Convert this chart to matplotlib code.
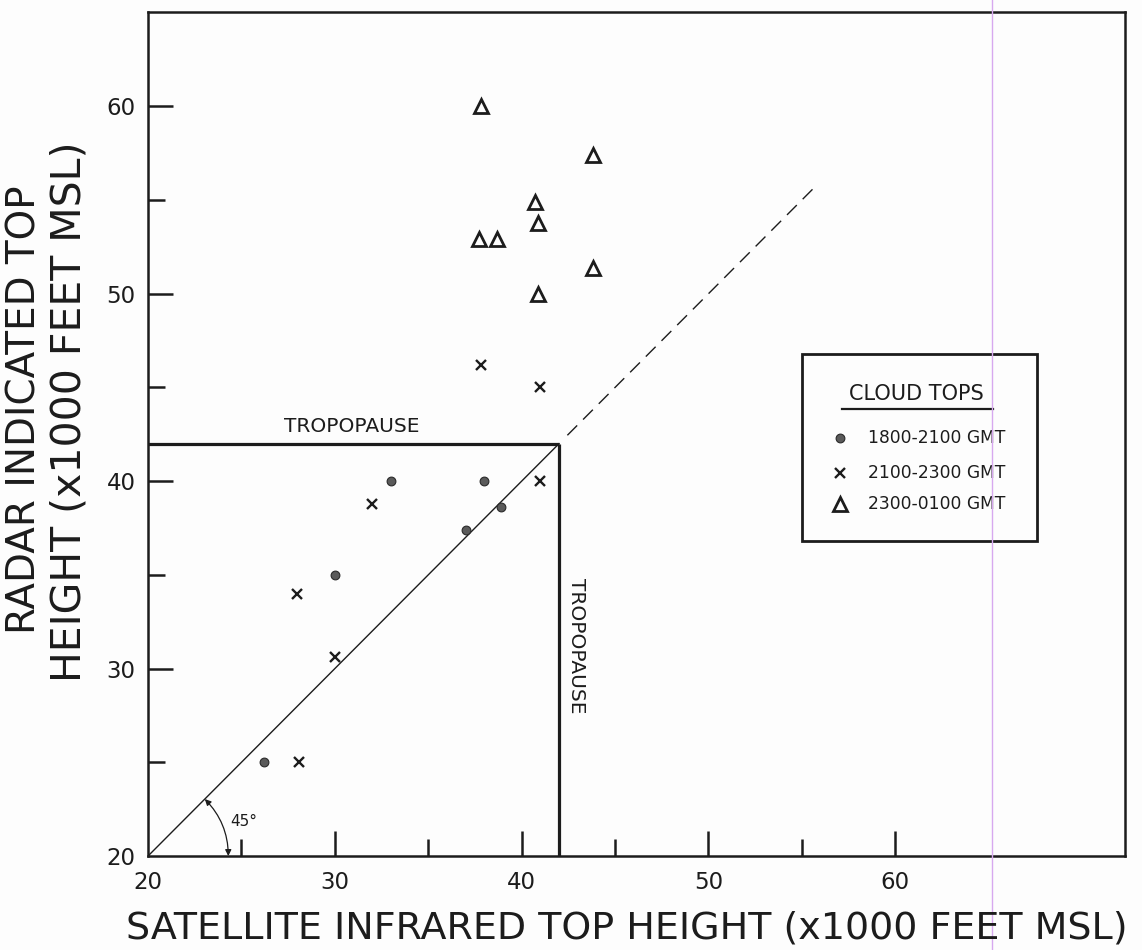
import matplotlib
matplotlib.use("Agg")
import matplotlib.pyplot as plt
from matplotlib.lines import Line2D
from matplotlib.patches import Rectangle

plt.rcParams['font.family'] = ['DejaVu Sans']

INK = '#1c1c1c'

# Cloud-top heights (x1000 ft MSL): satellite IR estimate vs radar-indicated
sat_1800_2100 = [26.2, 30.0, 33.0, 37.0, 38.0, 38.9]
rad_1800_2100 = [25.0, 35.0, 40.0, 37.4, 40.0, 38.6]

sat_2100_2300 = [28.1, 28.0, 30.0, 32.0, 41.0, 37.8, 41.0]
rad_2100_2300 = [25.0, 34.0, 30.6, 38.8, 40.0, 46.2, 45.0]

sat_2300_0100 = [37.8, 43.8, 40.7, 40.9, 37.7, 38.7, 43.8, 40.9]
rad_2300_0100 = [60.0, 57.4, 54.9, 53.8, 52.9, 52.9, 51.4, 50.0]

tropopause = 42.0
diag_end = 55.6

major_ticks = [20, 30, 40, 50, 60]
minor_ticks = [25, 35, 45, 55]

legend_title = "CLOUD TOPS"
legend_labels = ["1800-2100 GMT", "2100-2300 GMT", "2300-0100 GMT"]

fig = plt.figure(figsize=(11.42, 9.5), dpi=100)
fig.patch.set_facecolor('#fdfdfd')
ax = fig.add_axes([0.1296, 0.0989, 0.8555, 0.8888])
ax.set_facecolor('#fdfdfd')
ax.set_xlim(20, 72.3)
ax.set_ylim(20, 65.05)

for sp in ax.spines.values():
    sp.set_linewidth(1.8)
    sp.set_color(INK)

ax.set_xticks(major_ticks)
ax.set_yticks(major_ticks)
ax.set_xticks(minor_ticks, minor=True)
ax.set_yticks(minor_ticks, minor=True)
ax.tick_params(which='major', direction='in', length=18, width=1.8,
               labelsize=16.5, colors=INK)
ax.tick_params(which='minor', direction='in', length=12, width=1.8, colors=INK)
ax.tick_params(axis='x', which='major', pad=11)
ax.tick_params(axis='y', which='major', pad=9)
# the origin carries a label only, no tick mark
ax.xaxis.get_major_ticks()[0].tick1line.set_visible(False)
ax.yaxis.get_major_ticks()[0].tick1line.set_visible(False)

# 45-degree reference line: solid below the tropopause, dashed above
ax.plot([20, tropopause], [20, tropopause], color=INK, lw=1.0)
ax.plot([tropopause + 0.45, diag_end], [tropopause + 0.45, diag_end],
        color=INK, lw=1.0, linestyle=(0, (10, 6)))

# Tropopause boundaries
ax.plot([20, tropopause], [tropopause, tropopause], color=INK, lw=2.3,
        solid_capstyle='butt')
ax.plot([tropopause, tropopause], [20, tropopause], color=INK, lw=2.3,
        solid_capstyle='butt')
ax.text(30.9, tropopause + 0.9, "TROPOPAUSE", fontsize=14.5, color=INK,
        ha='center', va='center')
ax.text(tropopause + 0.95, 31.2, "TROPOPAUSE", fontsize=14.5, color=INK,
        ha='center', va='center', rotation=-90)

# 45 degree angle marker
r = 4.3
ax.annotate("", xy=(20 + r * 0.7071, 20 + r * 0.7071), xytext=(20 + r, 20),
            arrowprops=dict(arrowstyle='<|-|>', color=INK, lw=0.9,
                            mutation_scale=9,
                            connectionstyle='arc3,rad=0.2',
                            shrinkA=0, shrinkB=0))
ax.text(25.1, 21.85, "45°", fontsize=11, color=INK, ha='center', va='center')

# Observations
dot_kw = dict(marker='o', linestyle='none', markersize=6.3,
              markerfacecolor='#5a5a5a', markeredgecolor='#2a2a2a',
              markeredgewidth=0.8)
x_kw = dict(marker='x', linestyle='none', markersize=7.5,
            color=INK, markeredgewidth=1.7)
tri_kw = dict(marker='^', linestyle='none', markersize=10.5,
              markerfacecolor='none', markeredgecolor=INK, markeredgewidth=2.0)

ax.plot(sat_1800_2100, rad_1800_2100, **dot_kw)
ax.plot(sat_2100_2300, rad_2100_2300, **x_kw)
ax.plot(sat_2300_0100, rad_2300_0100, **tri_kw)

# Legend panel
box = Rectangle((0.669, 0.373), 0.241, 0.222, transform=ax.transAxes,
                fill=False, edgecolor=INK, lw=2.0)
ax.add_patch(box)
ax.text(0.786, 0.547, legend_title, transform=ax.transAxes, fontsize=15,
        color=INK, ha='center', va='center')
ax.plot([0.710, 0.865], [0.529, 0.529], transform=ax.transAxes,
        color=INK, lw=1.6)
row_y = [0.495, 0.454, 0.417]
for y, lab, kw in zip(row_y, legend_labels, [dot_kw, x_kw, tri_kw]):
    ax.plot([0.708], [y], transform=ax.transAxes, **kw)
    ax.text(0.737, y, lab, transform=ax.transAxes, fontsize=12.3,
            color=INK, ha='left', va='center')

# Axis titles
fig.text(627 / 1142, 1 - 928 / 950,
         "SATELLITE INFRARED TOP HEIGHT (x1000 FEET MSL)",
         fontsize=27.4, color=INK, ha='center', va='center')
fig.text(25 / 1142, 1 - 410 / 950, "RADAR INDICATED TOP",
         fontsize=28, color=INK, ha='center', va='center', rotation=90)
fig.text(70 / 1142, 1 - 412 / 950, "HEIGHT (x1000 FEET MSL)",
         fontsize=29.5, color=INK, ha='center', va='center', rotation=90)

# Thin violet scan streak across the sheet
fig.add_artist(Line2D([992 / 1142, 992 / 1142], [0, 1],
                      transform=fig.transFigure, color='#d7a9ef', lw=1.0))

fig.savefig("out.png", dpi=100, facecolor=fig.get_facecolor())
